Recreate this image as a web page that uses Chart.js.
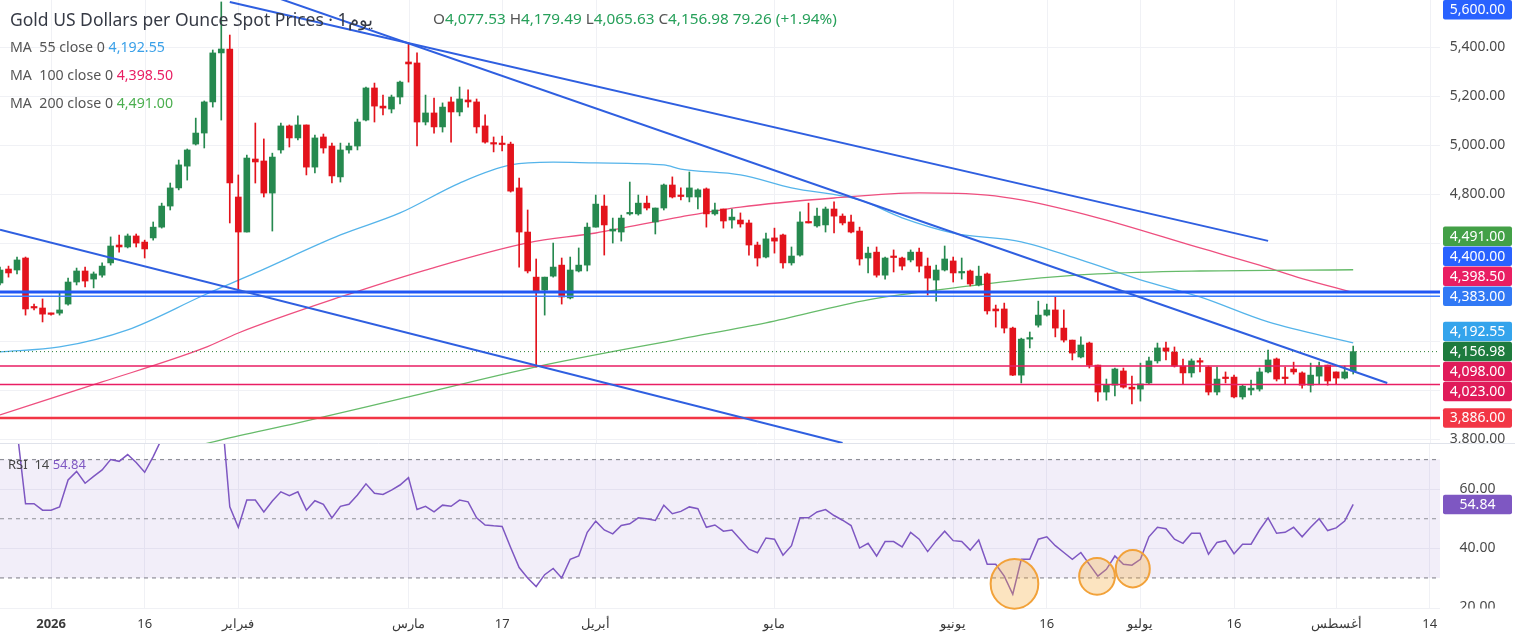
<!DOCTYPE html>
<html>
<head>
<meta charset="utf-8">
<script src="https://cdn.jsdelivr.net/npm/chart.js@4.4.1/dist/chart.umd.min.js"></script>
<style>
  body { margin: 0; background: #fff; font-family: 'Noto Sans', sans-serif; }
  #wrap { position: relative; width: 1515px; height: 635px; overflow: hidden; }
  canvas { position: absolute; left: 0; }
  #price-chart { top: 0; }
  #rsi-chart { top: 443px; }
  .txt { position: absolute; white-space: nowrap; }
  .title { left: 10px; top: 7px; font-size: 17.5px; color: #363a45; }
  .ohlc { left: 433px; top: 8px; font-size: 15.3px; color: #26a05a; }
  .ohlc span { color: #555; }
  .ma { left: 10px; font-size: 14.2px; color: #555; }
  .rsi-legend { left: 8px; top: 455px; font-size: 13px; color: #444; }
</style>
</head>
<body>
<div id="wrap">
  <canvas id="price-chart" width="1515" height="443"></canvas>
  <canvas id="rsi-chart" width="1515" height="197"></canvas>
  <div class="txt title">Gold US Dollars per Ounce Spot Prices · 1يوم</div>
  <div class="txt ohlc"><span>O</span>4,077.53 <span>H</span>4,179.49 <span>L</span>4,065.63 <span>C</span>4,156.98 79.26 (+1.94%)</div>
  <div class="txt ma" style="top:37px">MA&nbsp; 55 close 0 <span style="color:#3aa0e8">4,192.55</span></div>
  <div class="txt ma" style="top:65px">MA&nbsp; 100 close 0 <span style="color:#e91e63">4,398.50</span></div>
  <div class="txt ma" style="top:93px">MA&nbsp; 200 close 0 <span style="color:#4caf50">4,491.00</span></div>
  <div class="txt rsi-legend">RSI&nbsp; 14 <span style="color:#7e57c2">54.84</span></div>
</div>
<script>
// daily candles, oldest first
const candleOpen = [
  4437,4494,4490,4539,4339,4335,4310,4314,4351,4441,
  4486,4453,4469,4519,4592,4584,4629,4604,4621,4665,
  4751,4825,4914,5004,5049,5176,5376,5392,4788,4645,
  4943,4935,4804,4980,5078,5029,5082,4910,5033,4996,
  4870,4980,4996,5102,5233,5159,5147,5196,5339,5335,
  5094,5131,5074,5176,5135,5184,5176,5078,5008,5004,
  5004,4825,4645,4461,4408,4465,4510,4376,4486,4510,
  4665,4751,4649,4645,4719,4719,4763,4686,4743,4837,
  4792,4788,4788,4821,4719,4739,4694,4694,4682,4592,
  4543,4621,4633,4519,4551,4686,4670,4674,4739,4710,
  4686,4649,4539,4563,4469,4543,4539,4531,4563,4506,
  4449,4490,4527,4478,4486,4429,4474,4331,4331,4253,
  4061,4208,4265,4306,4327,4253,4204,4135,4192,4102,
  3992,4020,4078,4012,4004,4029,4119,4172,4155,4098,
  4070,4119,4094,3992,4049,4053,3972,4000,4004,4074,
  4127,4049,4086,4070,4020,4057,4102,4074,4049,4077.53
];
const candleHigh = [
  4502,4506,4543,4543,4351,4372,4314,4396,4457,4498,
  4502,4482,4519,4625,4633,4637,4637,4612,4686,4763,
  4845,4939,4984,5110,5180,5388,5584,5449,4878,4959,
  5090,5025,4967,5090,5082,5119,5082,5041,5045,5008,
  5008,5008,5106,5237,5253,5204,5204,5261,5416,5376,
  5204,5192,5172,5196,5237,5225,5188,5123,5033,5037,
  5012,4865,4735,4535,4461,4600,4539,4543,4580,4682,
  4796,4796,4702,4714,4849,4796,4792,4743,4841,4870,
  4825,4890,4821,4825,4763,4739,4739,4723,4694,4604,
  4641,4661,4637,4584,4727,4763,4743,4747,4768,4719,
  4714,4665,4584,4584,4543,4572,4543,4572,4580,4539,
  4510,4588,4543,4539,4490,4506,4478,4347,4355,4257,
  4212,4237,4363,4351,4380,4327,4204,4217,4196,4102,
  4045,4090,4090,4057,4110,4135,4192,4196,4176,4127,
  4127,4131,4098,4094,4074,4061,4020,4041,4090,4163,
  4131,4094,4114,4074,4110,4114,4102,4074,4098,4179.49
];
const candleLow = [
  4429,4461,4474,4306,4327,4278,4306,4306,4347,4429,
  4421,4417,4461,4510,4563,4580,4584,4539,4612,4661,
  4735,4817,4857,5000,4988,5155,5102,4682,4404,4645,
  4845,4788,4649,4967,4992,5021,4878,4886,4967,4845,
  4849,4967,4980,5098,5094,5123,5131,5168,5257,4996,
  5082,5049,5053,5012,5119,5155,5049,5008,4972,4976,
  4808,4502,4478,4094,4306,4461,4351,4372,4482,4486,
  4665,4551,4600,4608,4714,4714,4735,4637,4735,4784,
  4776,4768,4739,4665,4714,4661,4661,4665,4551,4506,
  4539,4559,4498,4510,4547,4682,4665,4645,4641,4674,
  4641,4510,4478,4461,4453,4482,4490,4523,4482,4388,
  4363,4486,4441,4453,4425,4425,4310,4257,4233,4059,
  4029,4172,4257,4302,4217,4196,4123,4131,4090,3955,
  3959,3976,4008,3943,3955,4025,4110,4123,4094,4025,
  4053,4074,3980,3980,4029,3968,3963,3980,3996,4070,
  4037,4025,4065,4008,3992,4025,4020,4025,4045,4065.63
];
const candleClose = [
  4490,4478,4531,4331,4335,4310,4309,4327,4441,4486,
  4445,4474,4506,4588,4584,4629,4600,4576,4665,4751,
  4825,4919,4980,5049,5176,5376,5392,4845,4645,4947,
  4931,4804,4951,5078,5029,5082,4910,5029,4988,4874,
  4980,4996,5094,5233,5159,5151,5196,5257,5331,5094,
  5131,5074,5155,5135,5188,5176,5074,5012,5004,5002,
  4812,4645,4486,4400,4461,4502,4380,4490,4510,4665,
  4759,4674,4657,4702,4720,4763,4743,4743,4837,4788,
  4790,4825,4817,4719,4735,4690,4706,4678,4592,4539,
  4617,4608,4519,4547,4686,4682,4710,4739,4710,4682,
  4645,4535,4559,4469,4539,4541,4506,4563,4506,4457,
  4490,4535,4478,4482,4433,4465,4323,4323,4253,4061,
  4208,4212,4306,4327,4253,4204,4151,4184,4102,3992,
  4020,4086,4012,4004,4025,4119,4172,4159,4098,4070,
  4119,4114,3992,4045,4047,3972,4016,4008,4074,4123,
  4045,4047,4074,4020,4061,4098,4037,4049,4074,4156.98
];
const rsiValues = [
  78,79,80,55.1,55.1,52.9,52.9,54,63.1,66,
  62,64.3,66.5,70,69.4,71.7,69,65.7,71,77,
  80,82,84,85,86,88,88,54,47.1,56.3,
  56.3,52.3,56,59.1,57.8,59.1,52.9,56.1,54.9,50.3,
  54.2,54.9,58,61.8,58.6,58.2,59.7,61.4,63.9,53.1,
  54.2,52.3,54.6,54.2,56.3,55.7,50.3,47.9,47.6,47.4,
  40.3,33.5,30,27.1,31.1,33.2,30,36.3,37.4,45.4,
  49.2,46.2,44.9,47.7,48.3,50.3,50,49.4,54.6,51.7,
  52.5,54,53.4,47.1,47.9,45.8,46.2,43,39.7,38.5,
  43.5,43.1,37.7,40.9,50.3,50.3,52.3,53.1,51.1,49.5,
  47.7,40.1,41.7,37.4,42.3,42.3,40.5,45.4,43.1,38.9,
  42.6,45.8,42.6,42.3,39.4,42.8,34.6,34.6,30.6,24.5,
  36.3,36.3,43.1,43.9,40.9,38.6,36.3,38.6,34.6,30.6,
  32.9,37.4,34.6,34.3,36.3,43.9,47.1,46.6,43.1,41.7,
  45.1,45.1,38,42,42.6,38.2,41.4,41.4,46.2,50.3,
  45.1,45.4,47.1,43.9,47.1,50,46,46.9,49.2,54.84
];

// moving averages as [bar, price]
const ma55Points = [[0,4156],[7,4176],[15,4246],[24,4388],[30,4478],[40,4633],[47,4723],[54,4845],[60,4919],[65,4930],[70,4927],[78,4919],[80,4902],[87,4878],[93,4825],[101,4776],[106,4703],[112,4641],[120,4605],[127,4531],[134,4450],[141,4380],[149,4278],[159,4192.55]];
const ma100Points = [[0,3899],[12,4033],[24,4172],[28,4233],[40,4380],[50,4490],[62,4601],[70,4641],[80,4707],[87,4747],[98,4784],[108,4805],[116,4796],[120,4776],[129,4703],[141,4580],[148,4510],[153,4455],[159,4398.5]];
const ma200Points = [[20,3744],[26,3797],[35,3866],[47,3964],[63,4095],[80,4209],[90,4274],[102,4368],[114,4425],[120,4450],[129,4474],[141,4486],[159,4491]];

// drawn trend lines [bar, price]
const upperTrend = [[27,5584],[149,4609]];
const middleTrend = [[27,5668],[163,4029]];
const lowerTrend = [[0,4654],[99,3784]];

// horizontal levels
const levelPrices = [5600, 4400, 4383, 4098, 4023, 3886];
const levelColors = ['#2962ff', '#2157f3', '#3d7eff', '#e91e63', '#e91e63', '#f23645'];
const levelWidths = [2, 3, 1.5, 1.5, 1.5, 2.5];

const xTickIdx = [6, 17, 28, 48, 59, 70, 91, 112, 123, 134, 145, 157, 168];
const xTickLabels = ['2026', '16', 'فبراير', 'مارس', '17', 'أبريل', 'مايو', 'يونيو', '16', 'يوليو', '16', 'أغسطس', '14'];
const priceTicks = [5400, 5200, 5000, 4800, 4600, 4400, 4200, 4000, 3800];
const rsiTicks = [60, 40, 20];
const rsiLevels = [70, 50, 30];
// highlighted RSI dips: [bar, rsi, half width in bars, half height in rsi]
const rsiMarks = [[119.2, 28, 2.8, 8.4], [128.9, 30.5, 2.1, 6.2], [133.1, 33.1, 2.0, 6.3]];

const X_MAX = 169.2;
const UP = '#26894f', DOWN = '#e3131c';

Chart.defaults.font.family = "'Noto Sans', sans-serif";

const bars = candleClose.map((_, i) => i);
const candleColors = bars.map(i => candleClose[i] >= candleOpen[i] ? UP : DOWN);
const toXY = pts => pts.map(([x, y]) => ({ x, y }));
const flat = v => [{ x: 0, y: v }, { x: X_MAX, y: v }];
const last = pts => pts[pts.length - 1][1];
const fmt = v => v.toLocaleString('en-US', { minimumFractionDigits: 2, maximumFractionDigits: 2 });

const lineDs = (data, color, width, order, extra) => Object.assign({
  type: 'line', data, borderColor: color, borderWidth: width,
  pointRadius: 0, fill: false, order
}, extra || {});

// grid, value boxes on the right axis and marks
const panelDecor = {
  id: 'panelDecor',
  beforeDatasetsDraw(chart, args, opts) {
    const { ctx, chartArea: a, scales: { x, y } } = chart;
    ctx.save();
    ctx.strokeStyle = '#f0f1f5';
    ctx.lineWidth = 1;
    (opts.vGrid || []).forEach(v => {
      const px = Math.round(x.getPixelForValue(v)) + 0.5;
      ctx.beginPath(); ctx.moveTo(px, a.top); ctx.lineTo(px, a.bottom); ctx.stroke();
    });
    (opts.hGrid || []).forEach(v => {
      const py = Math.round(y.getPixelForValue(v)) + 0.5;
      ctx.beginPath(); ctx.moveTo(a.left, py); ctx.lineTo(a.right, py); ctx.stroke();
    });
    ctx.restore();
  },
  afterDatasetsDraw(chart, args, opts) {
    const { ctx, scales: { x, y } } = chart;
    ctx.save();
    (opts.marks || []).forEach(([cx, cy, rx, ry]) => {
      const px = x.getPixelForValue(cx), py = y.getPixelForValue(cy);
      const rpx = Math.abs(x.getPixelForValue(cx + rx) - px);
      const rpy = Math.abs(y.getPixelForValue(cy + ry) - py);
      ctx.beginPath();
      ctx.ellipse(px, py, rpx, rpy, 0, 0, Math.PI * 2);
      ctx.fillStyle = 'rgba(247,170,60,0.32)';
      ctx.fill();
      ctx.strokeStyle = '#f2a23a';
      ctx.lineWidth = 2;
      ctx.stroke();
    });
    ctx.restore();
  },
  afterDraw(chart, args, opts) {
    const { ctx, chartArea: a, scales: { y } } = chart;
    const h = 19.5, gap = 20;
    const left = a.right + 3, w = chart.width - left - 3, cx = left + w / 2;
    const boxes = (opts.boxes || []).map(b => Object.assign({}, b, { py: y.getPixelForValue(b.value) }));
    const anchor = boxes.find(b => b.anchor);
    if (anchor) {
      const above = boxes.filter(b => b !== anchor && b.py <= anchor.py).sort((p, q) => q.py - p.py);
      const below = boxes.filter(b => b !== anchor && b.py > anchor.py).sort((p, q) => p.py - q.py);
      let prev = anchor.py;
      above.forEach(b => { b.py = Math.min(b.py, prev - gap); prev = b.py; });
      prev = anchor.py;
      below.forEach(b => { b.py = Math.max(b.py, prev + gap); prev = b.py; });
    }
    boxes.forEach(b => { b.py = Math.max(b.py, h / 2); });

    ctx.save();
    ctx.beginPath();
    ctx.rect(0, 0, chart.width, a.bottom);
    ctx.clip();
    ctx.font = "14px 'Noto Sans', sans-serif";
    ctx.textAlign = 'center';
    ctx.textBaseline = 'middle';
    ctx.fillStyle = '#4a4a4a';
    (opts.ticks || []).forEach(v => {
      const py = y.getPixelForValue(v);
      if (boxes.some(b => Math.abs(b.py - py) < 12)) return;
      ctx.fillText(fmt(v), cx, py);
    });
    boxes.forEach(b => {
      ctx.fillStyle = b.color;
      ctx.beginPath();
      ctx.roundRect(left, b.py - h / 2, w, h, 2);
      ctx.fill();
      ctx.fillStyle = '#fff';
      ctx.fillText(fmt(b.value), cx, b.py + 0.5);
    });
    if (opts.topLine) {
      ctx.strokeStyle = '#e0e3eb';
      ctx.lineWidth = 1;
      ctx.beginPath(); ctx.moveTo(0, 0.5); ctx.lineTo(chart.width, 0.5); ctx.stroke();
    }
    ctx.restore();
  }
};

const lastClose = candleClose[candleClose.length - 1];

const priceDatasets = [
  lineDs(toXY(ma200Points), '#66bb6a', 1.3, 6, { cubicInterpolationMode: 'monotone' }),
  lineDs(toXY(ma100Points), '#ee4f7f', 1.3, 6, { cubicInterpolationMode: 'monotone' }),
  lineDs(toXY(ma55Points), '#55b4ea', 1.3, 6, { cubicInterpolationMode: 'monotone' }),
  lineDs(flat(lastClose), '#2e7d32', 1, 5, { borderDash: [1, 3] }),
  {
    type: 'bar', order: 4, grouped: false, barThickness: 1,
    data: bars.map(i => ({ x: i, y: [candleLow[i], candleHigh[i]] })),
    backgroundColor: candleColors
  },
  {
    type: 'bar', order: 3, grouped: false, barThickness: 6, minBarLength: 1.5,
    data: bars.map(i => ({ x: i, y: [candleOpen[i], candleClose[i]] })),
    backgroundColor: candleColors
  },
  ...levelPrices.map((p, k) => lineDs(flat(p), levelColors[k], levelWidths[k], 2)),
  lineDs(toXY(upperTrend), '#2f5fe0', 2, 1),
  lineDs(toXY(middleTrend), '#2f5fe0', 2, 1),
  lineDs(toXY(lowerTrend), '#2f5fe0', 2, 1)
];

new Chart(document.getElementById('price-chart'), {
  type: 'bar',
  data: { datasets: priceDatasets },
  options: {
    responsive: false,
    animation: false,
    layout: { padding: { left: 0, right: 75, top: 0, bottom: 0 } },
    plugins: {
      legend: { display: false },
      tooltip: { enabled: false },
      panelDecor: {
        vGrid: xTickIdx,
        hGrid: priceTicks,
        ticks: priceTicks,
        boxes: [
          { value: levelPrices[0], color: '#2962ff' },
          { value: last(ma200Points), color: '#43a047' },
          { value: levelPrices[1], color: '#2962ff' },
          { value: last(ma100Points), color: '#e91e63' },
          { value: levelPrices[2], color: '#3179f5' },
          { value: last(ma55Points), color: '#34a4ec' },
          { value: lastClose, color: '#1e7b3e', anchor: true },
          { value: levelPrices[3], color: '#e01b5a' },
          { value: levelPrices[4], color: '#e01b5a' },
          { value: levelPrices[5], color: '#f23645' }
        ]
      }
    },
    scales: {
      x: { type: 'linear', min: 0, max: X_MAX, offset: false, display: false, grid: { offset: false } },
      y: { type: 'linear', min: 3784, max: 5592, display: false }
    }
  },
  plugins: [panelDecor]
});

const rsiDatasets = [
  lineDs(bars.map(i => ({ x: i, y: rsiValues[i] })), '#7e57c2', 1.5, 1),
  lineDs(flat(rsiLevels[0]), '#8f9099', 1.2, 3, { borderDash: [4, 4] }),
  lineDs(flat(rsiLevels[1]), '#8f9099', 1, 3, { borderDash: [4, 4] }),
  lineDs(flat(rsiLevels[2]), '#8f9099', 1.2, 3, {
    borderDash: [4, 4], fill: { value: rsiLevels[0] }, backgroundColor: 'rgba(126,87,194,0.1)'
  })
];

new Chart(document.getElementById('rsi-chart'), {
  type: 'line',
  data: { datasets: rsiDatasets },
  options: {
    responsive: false,
    animation: false,
    layout: { padding: { left: 0, right: 75, top: 0, bottom: 0 } },
    plugins: {
      legend: { display: false },
      tooltip: { enabled: false },
      panelDecor: {
        hGrid: rsiTicks,
        ticks: rsiTicks,
        marks: rsiMarks,
        topLine: true,
        boxes: [{ value: rsiValues[rsiValues.length - 1], color: '#7e57c2', anchor: true }]
      }
    },
    scales: {
      x: {
        type: 'linear', min: 0, max: X_MAX, offset: false,
        afterBuildTicks: axis => { axis.ticks = xTickIdx.map(v => ({ value: v })); },
        ticks: {
          autoSkip: false, maxRotation: 0, padding: 8, color: '#3a3a3a',
          font: c => ({ size: 13, weight: c.tick && c.tick.value === xTickIdx[0] ? 'bold' : 'normal' }),
          callback: v => xTickLabels[xTickIdx.indexOf(v)]
        },
        grid: { color: '#f0f1f5', drawTicks: false },
        border: { display: false }
      },
      y: { type: 'linear', min: 19.7, max: 75.6, display: false }
    }
  },
  plugins: [panelDecor]
});
</script>
</body>
</html>
